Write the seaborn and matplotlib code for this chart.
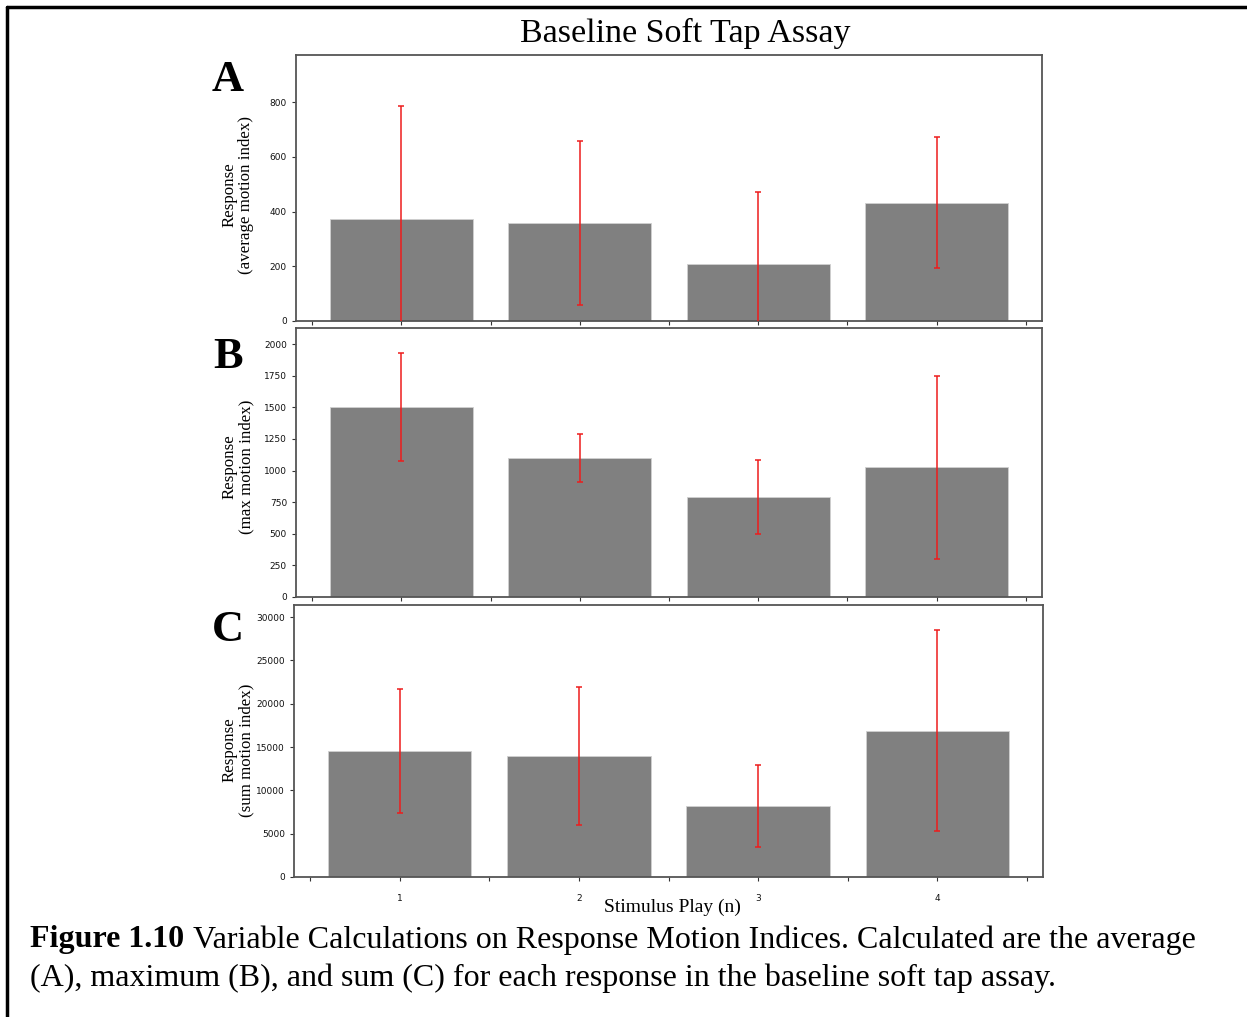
import numpy as np
import pandas as pd
import seaborn as sns
import matplotlib.pyplot as plt
from matplotlib.lines import Line2D

# Stimulus play index
plays = [1, 2, 3, 4]

# (A) average motion index: mean and error half-width
avg_mean = [373, 358, 208, 433]
avg_err = [413, 300, 264, 240]

# (B) maximum motion index
max_mean = [1503, 1100, 791, 1025]
max_err = [427, 190, 293, 722]

# (C) summed motion index
sum_mean = [14540, 13960, 8190, 16900]
sum_err = [7150, 7950, 4730, 11600]

ylabels = ["Response\n(average motion index)",
           "Response\n(max motion index)",
           "Response\n(sum motion index)"]
panel_letters = ["A", "B", "C"]
tick_labels = ["1", "2", "3", "4"]

sns.set_theme(style="white")
plt.rcParams["font.family"] = ["DejaVu Sans"]
plt.rcParams["text.color"] = "black"

W, H = 1247, 1017
fig = plt.figure(figsize=(W / 100, H / 100), dpi=100)


def px_axes(left, top, right, bottom):
    return fig.add_axes([left / W, 1 - bottom / H, (right - left) / W, (bottom - top) / H])


axes_px = [(296, 55, 1042, 321), (296, 328, 1042, 597), (294, 605, 1043, 877)]
means = [avg_mean, max_mean, sum_mean]
errs = [avg_err, max_err, sum_err]
ylims = [972, 2128, 31400]
yticks = [np.arange(0, 801, 200), np.arange(0, 2001, 250), np.arange(0, 30001, 5000)]
label_y = [195, 467, 750]
letter_y = [80, 357, 630]

serif = ["Liberation Serif", "DejaVu Serif"]

for i in range(3):
    ax = px_axes(*axes_px[i])
    df = pd.DataFrame({"play": plays, "value": means[i]})
    sns.barplot(data=df, x="play", y="value", native_scale=True, color="#808080",
                saturation=1, errorbar=None, edgecolor="#d0d0d0", linewidth=0.6, ax=ax)
    ax.errorbar(plays, means[i], yerr=errs[i], fmt="none", ecolor="#ee1c1c",
                elinewidth=1.1, capsize=2, capthick=1.1, zorder=5)
    ax.set_xlim(0.41, 4.59)
    ax.set_ylim(0, ylims[i])
    ax.set_yticks(yticks[i])
    ax.set_xticks(np.arange(0.5, 4.51, 0.5))
    if i == 2:
        ax.set_xticklabels(["", tick_labels[0], "", tick_labels[1], "", tick_labels[2], "",
                            tick_labels[3], ""])
    else:
        ax.set_xticklabels([])
    ax.set_xlabel("")
    ax.set_ylabel("")
    ax.tick_params(axis="both", which="major", length=3, width=0.8, color="#333333",
                   labelsize=6.5, labelcolor="#111111", bottom=True, left=True)
    ax.tick_params(axis="x", pad=9)
    for s in ax.spines.values():
        s.set_color("#555555")
        s.set_linewidth(1.3)
        s.set_visible(True)
    fig.text(238 / W, 1 - label_y[i] / H, ylabels[i], rotation=90, ha="center", va="center",
             fontsize=12.2, family=serif, linespacing=1.05, color="black")
    fig.text(228 / W, 1 - letter_y[i] / H, panel_letters[i], ha="center", va="center",
             fontsize=32, fontweight="bold", family=serif, color="black")

fig.text(685 / W, 1 - 33 / H, "Baseline Soft Tap Assay", ha="center", va="center",
         fontsize=24.5, family=serif, color="black")
fig.text(672 / W, 1 - 907 / H, "Stimulus Play (n)", ha="center", va="center",
         fontsize=14, family=serif, color="black")

# Caption below the panels
cap_size = 23
cap1 = fig.text(30 / W, 1 - 940 / H, "Figure 1.10", ha="left", va="center",
                fontsize=cap_size, fontweight="bold", family=serif, color="black")
fig.canvas.draw()
bb = cap1.get_window_extent()
fig.text((bb.x1 + 9) / W, 1 - 940 / H,
         "Variable Calculations on Response Motion Indices. Calculated are the average",
         ha="left", va="center", fontsize=cap_size, family=serif, color="black")
fig.text(30 / W, 1 - 978 / H,
         "(A), maximum (B), and sum (C) for each response in the baseline soft tap assay.",
         ha="left", va="center", fontsize=cap_size, family=serif, color="black")

# Frame lines along the top and left edges
fig.add_artist(Line2D([7 / W, 1], [1 - 7 / H, 1 - 7 / H], transform=fig.transFigure,
                      color="black", lw=2.5))
fig.add_artist(Line2D([7 / W, 7 / W], [0, 1 - 7 / H], transform=fig.transFigure,
                      color="black", lw=2.5))

fig.savefig("out.png", dpi=100)
